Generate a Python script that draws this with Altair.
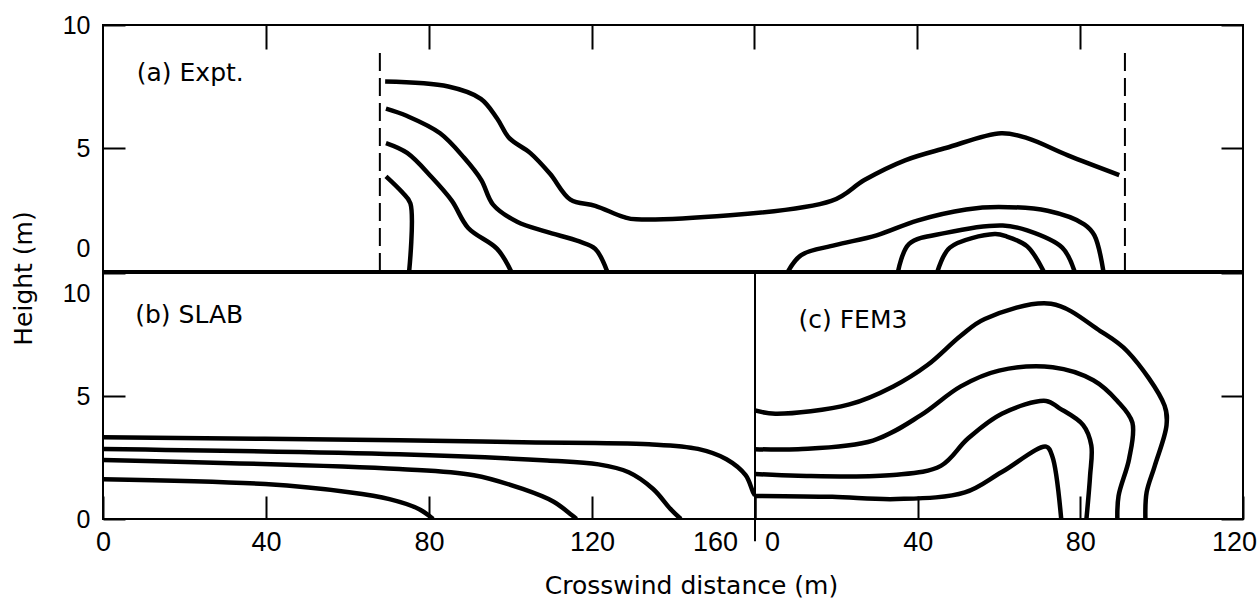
import altair as alt
import pandas as pd

# ---------------- data ----------------
# (a) Expt. : crosswind distance 0..280 m, height 0..10 m
a1_x = [69.3, 84.8, 92.8, 96.8, 99.8, 104.9, 109.8, 114.8, 120.9, 127.8, 131.0, 178.9, 187.0, 197.0, 207.0, 220.6, 227.0, 237.0, 249.6]
a1_h = [7.7, 7.5, 7.0, 6.2, 5.4, 4.8, 3.95, 2.9, 2.65, 2.2, 2.1, 2.85, 3.7, 4.5, 5.0, 5.6, 5.4, 4.7, 3.9]
a2_x = [69.5, 74.7, 82.8, 88.7, 92.9, 95.8, 101.7, 108.8, 117.0, 120.9, 123.8]
a2_h = [6.6, 6.3, 5.6, 4.6, 3.7, 2.7, 2.0, 1.6, 1.2, 0.9, 0.0]
a3_x = [69.5, 74.7, 80.8, 85.7, 89.7, 96.8, 100.2]
a3_h = [5.2, 4.8, 3.8, 2.85, 1.75, 0.9, 0.0]
a4_x = [69.5, 73.5, 75.5, 75.2]
a4_h = [3.85, 3.2, 2.75, 0.0]
a5_x = [168.3, 171.5, 179.8, 190.0, 200.0, 212.0, 220.0, 232.0, 241.0, 243.5, 245.7]
a5_h = [0.0, 0.65, 1.05, 1.45, 2.05, 2.5, 2.6, 2.45, 1.9, 1.45, 0.0]
a6_x = [195.3, 198.0, 207.0, 221.0, 227.0, 235.6, 238.6]
a6_h = [0.0, 1.1, 1.55, 1.85, 1.65, 0.95, 0.0]
a7_x = [205.0, 208.0, 219.0, 222.0, 227.0, 231.0]
a7_h = [0.0, 0.95, 1.5, 1.4, 1.0, 0.0]
edge_x = [68.0, 251.0]
edge_top = [8.9, 8.9]
edge_bottom = [0.0, 0.0]

# (b) SLAB : 0..160 m
b1_x = [0.0, 72.7, 103.0, 134.0, 146.0, 153.0, 157.7, 159.5, 160.0]
b1_h = [3.32, 3.2, 3.12, 3.04, 2.85, 2.43, 1.78, 1.1, 0.95]
b2_x = [0.0, 72.7, 109.0, 121.6, 129.0, 135.0, 139.3, 141.8]
b2_h = [2.85, 2.63, 2.38, 2.22, 1.9, 1.22, 0.4, 0.0]
b3_x = [0.0, 72.7, 91.0, 103.0, 110.6, 115.0, 116.2]
b3_h = [2.4, 2.03, 1.78, 1.22, 0.7, 0.16, 0.0]
b4_x = [0.0, 39.8, 60.4, 70.3, 77.6, 81.0]
b4_h = [1.62, 1.42, 1.09, 0.81, 0.4, 0.0]
divider_x = [160.0]
divider_top = [0.0]
divider_bottom = [-0.9]

# (c) FEM3 : 0..120 m
c1_x = [0.0, 5.0, 23.2, 34.0, 42.5, 50.6, 56.5, 72.8, 84.9, 91.6, 100.7, 101.2, 98.3, 96.3, 96.0]
c1_h = [4.41, 4.28, 4.66, 5.39, 6.27, 7.45, 8.13, 8.75, 7.64, 6.81, 4.61, 3.82, 2.16, 1.08, 0.0]
c2_x = [0.0, 10.6, 29.0, 40.7, 50.6, 60.0, 73.2, 83.2, 89.1, 92.8, 92.0, 89.4, 89.1]
c2_h = [2.84, 2.84, 3.19, 4.21, 5.39, 6.03, 6.17, 5.64, 4.8, 3.92, 2.45, 0.94, 0.0]
c3_x = [0.0, 10.6, 34.0, 45.7, 52.3, 60.7, 71.6, 74.8, 80.7, 82.7, 82.4, 81.5]
c3_h = [1.83, 1.76, 1.79, 2.16, 3.26, 4.28, 4.8, 4.51, 3.82, 2.99, 1.76, 0.0]
c4_x = [0.0, 19.0, 34.8, 51.6, 60.7, 71.6, 73.1, 75.3]
c4_h = [0.94, 0.9, 0.81, 1.08, 1.91, 2.94, 2.55, 0.0]

panel_labels = ["(a) Expt.", "(b) SLAB", "(c) FEM3"]
panel_label_x = [8.3, 7.9, 10.7]
panel_label_h = [8.05, 8.3, 8.1]

height_ticks = [0, 5, 10]
top_ticks = [40, 80, 120, 160, 200, 240]
slab_ticks = [0, 40, 80, 120, 160]
fem_ticks = [0, 40, 80, 120]

y_title = "Height (m)"
x_title = "Crosswind distance (m)"


def long_df(curves):
    rows = []
    for cid, (xs, hs) in enumerate(curves):
        for k, (x, h) in enumerate(zip(xs, hs)):
            rows.append({"curve": cid, "k": k, "x": x, "h": h})
    return pd.DataFrame(rows)


df_a = long_df([(a1_x, a1_h), (a2_x, a2_h), (a3_x, a3_h), (a4_x, a4_h),
                (a5_x, a5_h), (a6_x, a6_h), (a7_x, a7_h)])
df_b = long_df([(b1_x, b1_h), (b2_x, b2_h), (b3_x, b3_h), (b4_x, b4_h)])
df_c = long_df([(c1_x, c1_h), (c2_x, c2_h), (c3_x, c3_h), (c4_x, c4_h)])
df_edges = pd.DataFrame({"x": edge_x, "h0": edge_bottom, "h1": edge_top})
df_div = pd.DataFrame({"x": divider_x, "h0": divider_top, "h1": divider_bottom})
df_lab = pd.DataFrame({"label": panel_labels, "x": panel_label_x, "h": panel_label_h})

TICK_FONT = "Liberation Sans"
TEXT_FONT = "DejaVu Sans"


def yscale():
    return alt.Scale(domain=[0, 10], nice=False, zero=False)


def xscale(hi):
    return alt.Scale(domain=[0, hi], nice=False, zero=False)


def axis(**kw):
    base = dict(grid=False, domain=False, tickColor="black", tickWidth=2,
                labelColor="black", labelFont=TICK_FONT, labelFontWeight="normal",
                labelFlush=False, labelOverlap=False, title=None)
    base.update(kw)
    return alt.Axis(**base)


line_kw = dict(color="black", strokeWidth=4.5, strokeCap="butt", strokeJoin="round",
               interpolate="catmull-rom", clip=True)


def contour_layer(df, hi, xaxis, yaxis):
    return alt.Chart(df).mark_line(**line_kw).encode(
        x=alt.X("x:Q", scale=xscale(hi), axis=xaxis),
        y=alt.Y("h:Q", scale=yscale(), axis=yaxis),
        detail="curve:N",
        order="k:Q",
    )


def label_layer(i, hi):
    return alt.Chart(df_lab.iloc[[i]]).mark_text(
        font=TEXT_FONT, fontSize=25, align="left", baseline="middle", color="black"
    ).encode(
        x=alt.X("x:Q", scale=xscale(hi), axis=None),
        y=alt.Y("h:Q", scale=yscale(), axis=None),
        text="label:N",
    )


# ---- (a) Expt.
lines_a = contour_layer(
    df_a, 280,
    axis(orient="top", values=top_ticks, labels=False, tickSize=24, offset=-24),
    axis(orient="left", values=height_ticks, tickSize=22, offset=-22, labelPadding=13,
         labelFontSize=25,
         labelOffset={"condition": {"test": "datum.value == 0", "value": -23}, "value": 0}),
)
edges_a = alt.Chart(df_edges).mark_rule(color="black", strokeWidth=2, strokeDash=[18, 7]).encode(
    x=alt.X("x:Q", scale=xscale(280), axis=None),
    y=alt.Y("h0:Q", scale=yscale(),
            axis=axis(orient="right", values=height_ticks, labels=False, tickSize=22, offset=-22)),
    y2="h1:Q",
)
top = alt.layer(lines_a, edges_a, label_layer(0, 280)).resolve_axis(
    x="independent", y="independent").properties(width=1140, height=246)

# ---- (b) SLAB
lines_b = contour_layer(
    df_b, 160,
    axis(orient="bottom", values=slab_ticks, tickSize=23, offset=-23, labelPadding=10,
         labelFontSize=27,
         labelOffset={"condition": {"test": "datum.value == 160", "value": -40}, "value": 0},
         title=x_title, titleFont=TEXT_FONT, titleFontSize=25, titleFontWeight="normal",
         titleColor="black", titleX=588, titleY=89, titleAlign="center", titleBaseline="middle",
         titleAngle=0),
    axis(orient="left", values=height_ticks, tickSize=22, offset=-22, labelPadding=13,
         labelFontSize=25,
         labelOffset={"condition": {"test": "datum.value == 10", "value": 20}, "value": 0}),
)
divider = alt.Chart(df_div).mark_rule(color="black", strokeWidth=2, clip=False).encode(
    x=alt.X("x:Q", scale=xscale(160), axis=None),
    y=alt.Y("h0:Q", scale=yscale(), axis=None),
    y2="h1:Q",
)
slab = alt.layer(lines_b, divider, label_layer(1, 160)).resolve_axis(
    x="independent", y="independent").properties(width=652, height=246)

# ---- (c) FEM3
lines_c = contour_layer(
    df_c, 120,
    axis(orient="bottom", values=fem_ticks, tickSize=23, offset=-23, labelPadding=10,
         labelFontSize=27,
         labelOffset={"condition": [{"test": "datum.value == 0", "value": 17},
                                    {"test": "datum.value == 120", "value": -9}], "value": 0}),
    axis(orient="right", values=height_ticks, labels=False, tickSize=22, offset=-22),
)
fem = alt.layer(lines_c, label_layer(2, 120)).resolve_axis(
    x="independent", y="independent").properties(width=488, height=246)

bottom = alt.hconcat(slab, fem, spacing=0, bounds="flush")

chart = alt.vconcat(top, bottom, spacing=-3).properties(
    title=alt.TitleParams(y_title, orient="left", anchor="middle", font=TEXT_FONT, fontSize=25,
                          fontWeight="normal", color="black", offset=24, dx=27),
    padding={"left": 12, "top": 12, "right": 0, "bottom": 0},
    background="white",
).configure_view(stroke="black", strokeWidth=2)

chart.save("out.html", embed_options={"renderer": "svg", "actions": False})
